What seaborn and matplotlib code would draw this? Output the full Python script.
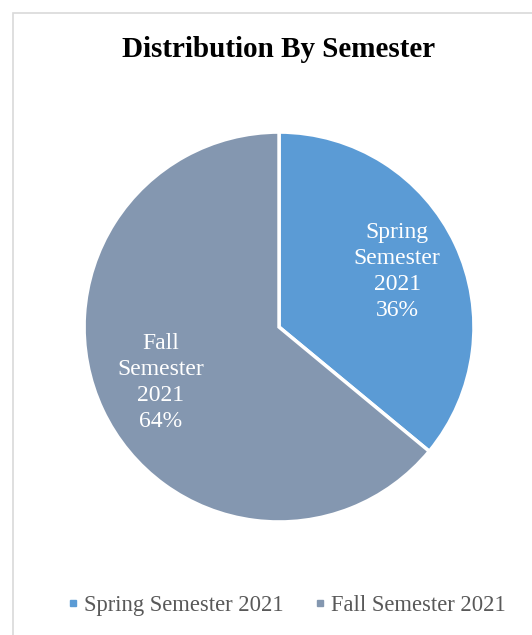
import matplotlib
matplotlib.use("Agg")
import matplotlib.pyplot as plt
import seaborn as sns
from matplotlib.patches import Rectangle
from matplotlib.lines import Line2D

# dati
categorie = ["Spring Semester 2021", "Fall Semester 2021"]
etichette = ["Spring\nSemester\n2021", "Fall\nSemester\n2021"]
percentuali = [36, 64]
colori = ["#5B9BD5", "#8497B0"]

sns.set_theme(style="white")
plt.rcParams["font.family"] = ["Liberation Serif", "DejaVu Serif"]

fig = plt.figure(figsize=(5.32, 6.35), dpi=100)
fig.patch.set_facecolor("white")

# cornice del grafico
fig.add_artist(Rectangle((13 / 532, -0.1), 1.0, 0.1 + 1 - 13 / 635,
                         transform=fig.transFigure, fill=False,
                         edgecolor="#D9D9D9", linewidth=1.2))

ax = fig.add_axes([0.158, 0.178, 0.733, 0.614])
testi = [f"{e}\n{p}%" for e, p in zip(etichette, percentuali)]
wedges, texts = ax.pie(percentuali, labels=testi, colors=colori, startangle=90,
                       counterclock=False, labeldistance=0.67,
                       wedgeprops=dict(edgecolor="white", linewidth=2.5),
                       textprops=dict(color="white", fontsize=17, linespacing=1.32))
for t in texts:
    t.set_ha("center")
    t.set_va("center")
    t.set_multialignment("center")
ax.set_xlim(-1, 1)
ax.set_ylim(-1, 1)
ax.set_aspect("equal")

fig.text(0.524, 0.922, "Distribution By Semester", ha="center", va="center",
         fontsize=21, fontweight="bold", color="black")

handles = [Line2D([0], [0], marker="s", linestyle="", markersize=5,
                  markerfacecolor=c, markeredgecolor=c) for c in colori]
fig.legend(handles, categorie, loc="center", bbox_to_anchor=(0.535, 0.047),
           ncol=2, frameon=False, fontsize=16.3, handletextpad=0.1,
           columnspacing=1.2, labelcolor="#595959", handlelength=0.8)

fig.savefig("out.png", dpi=100)
